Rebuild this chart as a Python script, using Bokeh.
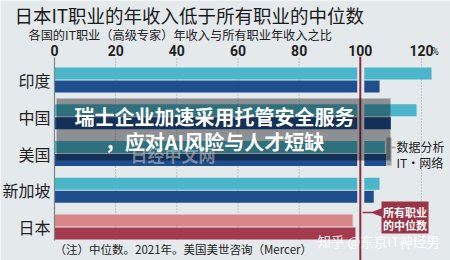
from bokeh.plotting import figure
from bokeh.models import Range1d, Label
from bokeh.embed import file_html
from bokeh.resources import INLINE
from bokeh.core.properties import value

# ---- data ----
countries = ["印度", "中国", "美国", "新加坡", "日本"]
series_names = ["数据分析", "IT·网络"]
data_analysis = [123.3, 118.4, 108.0, 106.3, 97.5]   # light bars
it_network = [106.3, 110.0, 108.5, 104.4, 98.4]      # dark bars
ticks = [0, 20, 40, 60, 80, 100, 120]
tick_labels = ["0", "20", "40", "60", "80", "100", "120"]
grid_ticks = [20, 40, 60, 80, 120]
median_value = 100

title_text = "日本IT职业的年收入低于所有职业的中位数"
subtitle_text = "各国的IT职业（高级专家）年收入与所有职业年收入之比"
note_text = "（注）中位数。2021年。美国美世咨询（Mercer）"
median_label = ["所有职业", "的中位数"]
headline = ["瑞士企业加速采用托管安全服务", "，应对AI风险与人才短缺"]

# ---- layout helpers (pixel -> data) ----
W, H = 450, 260
X0, SX = 54.0, 3.058
Y0, SY = 79.5, 36.75
def X(px): return (px - X0) / SX
def Y(py): return (py - Y0) / SY

CJK_NAME = "Noto Sans CJK SC"
CJK = value(CJK_NAME)
BG = "#e4e9ec"
LIGHT, DARK = "#4bb5c9", "#1f4e8c"
JP_LIGHT, JP_DARK = "#d8868a", "#a33a4e"
RED = "#8e2c3d"

p = figure(width=W, height=H, output_backend="svg", toolbar_location=None,
           x_range=Range1d(X(0), X(W)), y_range=Range1d(Y(H), Y(0)),
           x_axis_location=None, y_axis_location=None, min_border=0)
p.background_fill_color = BG
p.border_fill_color = BG
p.outline_line_color = None
p.grid.visible = False

idx = list(range(len(countries)))
light_colors = [JP_LIGHT if c == "日本" else LIGHT for c in countries]
dark_colors = [JP_DARK if c == "日本" else DARK for c in countries]

def label(x, y, text, size, color="#1e1e1e", bold=False, align="left", font=CJK_NAME, alpha=1.0):
    p.add_layout(Label(x=x, y=H - y, x_units="screen", y_units="screen", text=text,
                       text_font=font, text_font_size=size, text_color=color,
                       text_font_style="bold" if bold else "normal", text_alpha=alpha,
                       text_align=align, text_baseline="middle"))

# grid lines
p.segment(x0=grid_ticks, x1=grid_ticks, y0=Y(58), y1=Y(240),
          line_color="#98a2a8", line_width=1, line_dash="1 2")

# bars
p.hbar(y=[i - 0.177 for i in idx], right=data_analysis, left=0, height=0.33,
       fill_color=light_colors, line_color=None)
p.hbar(y=[i + 0.177 for i in idx], right=it_network, left=0, height=0.33,
       fill_color=dark_colors, line_color=None)

# gap around the median line
p.quad(left=median_value - 1.0, right=median_value + 1.3, top=Y(57), bottom=Y(242),
       fill_color=BG, line_color=None)
p.segment(x0=[median_value], x1=[median_value], y0=Y(56), y1=Y(262),
          line_color=RED, line_width=2)

# zero axis line
p.segment(x0=[0], x1=[0], y0=Y(57), y1=Y(240), line_color="#7d8286", line_width=1.2)

# tick labels
p.text(x=ticks, y=[Y(49.5)] * len(ticks), text=tick_labels, text_align="center",
       text_baseline="middle", text_font=value("Roboto"), text_font_style="bold",
       text_font_size="14px", text_color="#1e1e1e")
label(431, 51, "%", "10px", font="Roboto")

# country labels
p.text(x=[X(50)] * len(countries), y=idx, text=countries, text_align="right",
       text_baseline="middle", text_font=CJK, text_font_size="16px", text_color="#1e1e1e")

# title & subtitle
label(14, 14, title_text, "18.5px", color="#1a1a1a")
label(28, 34, subtitle_text, "12.2px", color="#222222")

# series bracket (US bars)
p.quad(left=X(386), right=X(391), top=Y(137), bottom=Y(165), fill_color="#9a9ea1",
       line_color=None)
p.segment(x0=[X(391)], x1=[X(395)], y0=[Y(147)], y1=[Y(147)], line_color="#9a9ea1",
          line_width=1.5)
label(396, 146, series_names[0], "12px")
label(396, 162, series_names[1], "12px")

# median callout box
p.segment(x0=[X(362)], x1=[X(372)], y0=[Y(212)], y1=[Y(212)], line_color="#9b3446",
          line_width=1.5)
p.patch(x=[X(370), X(382), X(382)], y=[Y(212), Y(207.5), Y(216.5)], fill_color="#9b3446",
        line_color=None)
p.quad(left=X(381), right=X(428), top=Y(201), bottom=Y(233), fill_color="#9b3446",
       line_color=None)
for k, t in enumerate(median_label):
    label(404.5, 211 + 13 * k, t, "11px", color="white", bold=True, align="center")

# footnote
label(54, 248, note_text, "11.5px")

# headline overlay
p.quad(left=X(56), right=X(390), top=Y(98), bottom=Y(160), fill_color="black",
       fill_alpha=0.38, line_color=None)
label(130, 154, "日经中文网", "17px", color="#c4cacd", bold=True, alpha=0.55)
for k, t in enumerate(headline):
    label(214, 116 + 25 * k, t, "20px", color="white", bold=True, align="center")

# watermark
label(317, 240, "知乎 @东京IT神经男", "13.5px", color="white", alpha=0.9)

open("out.html", "w").write(file_html(p, INLINE))
